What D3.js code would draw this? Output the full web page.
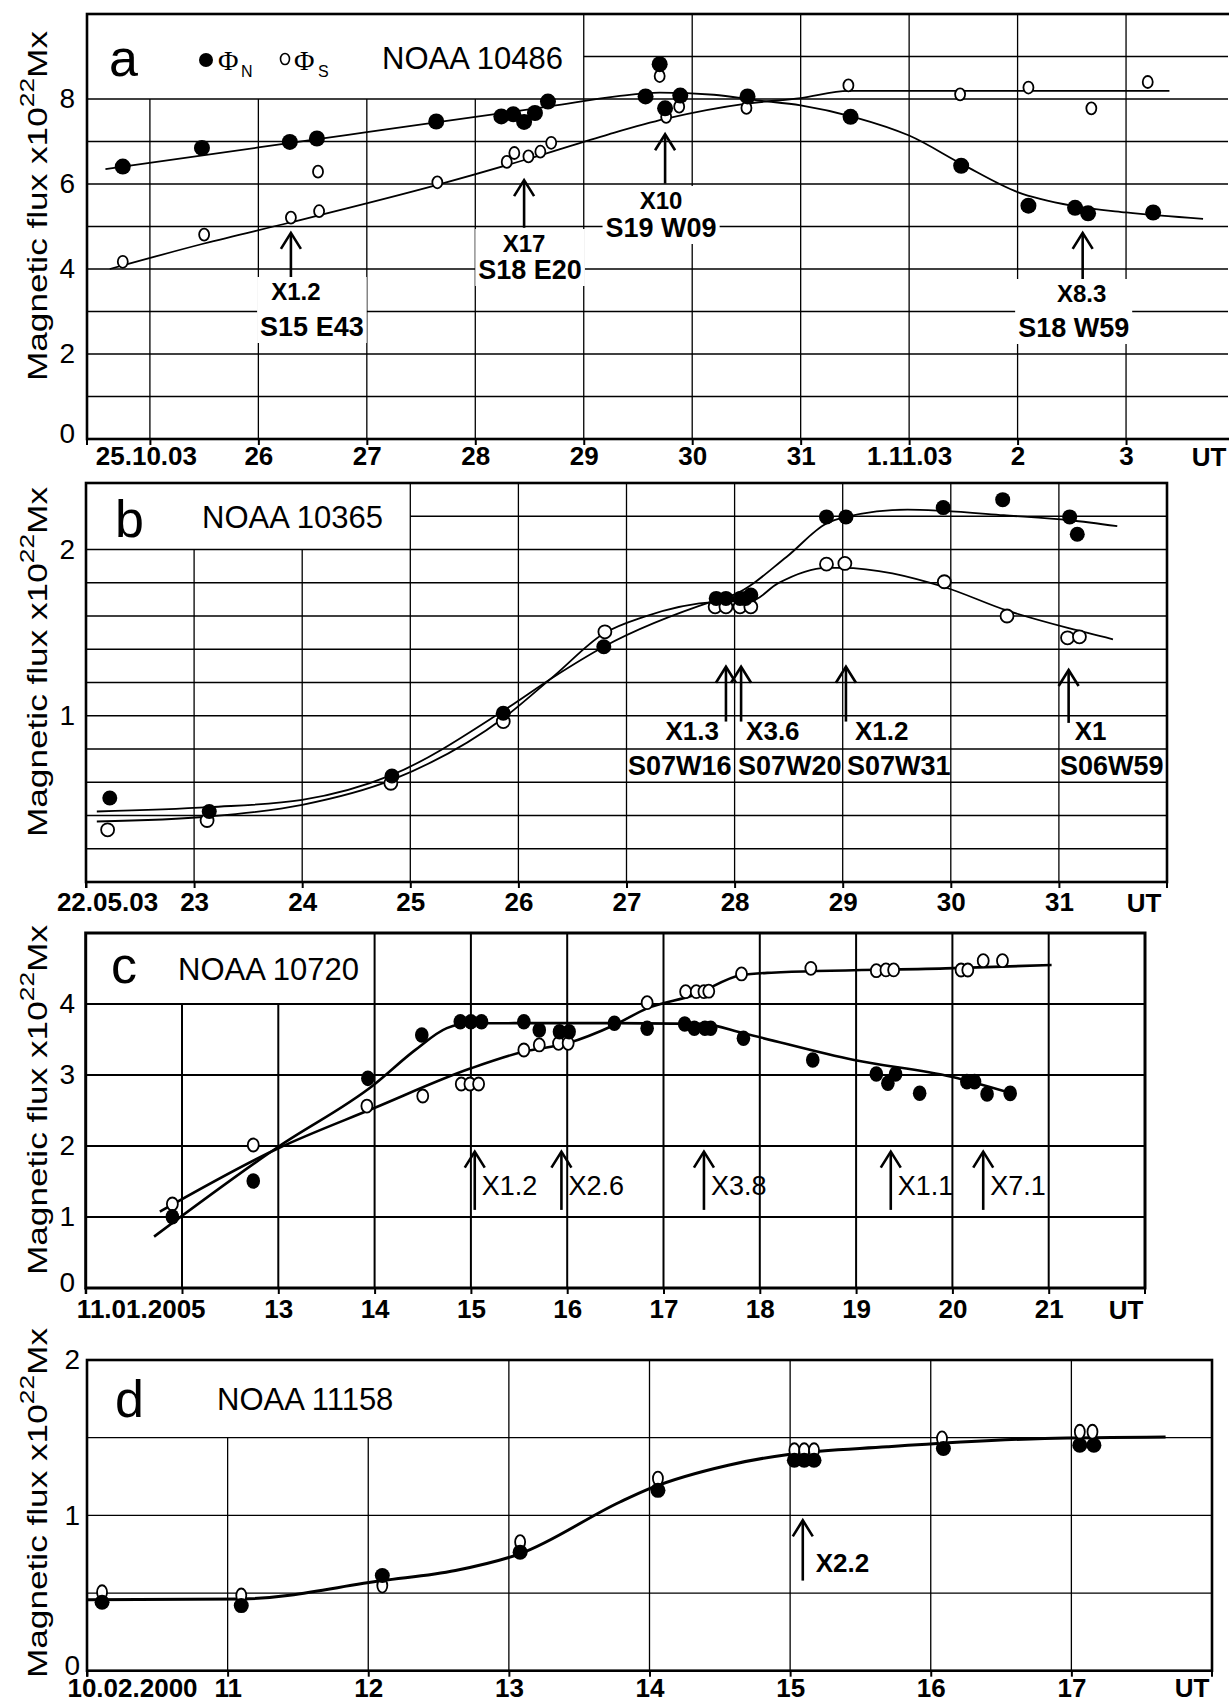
<!doctype html>
<html>
<head>
<meta charset="utf-8">
<script src="https://cdn.jsdelivr.net/npm/d3@7/dist/d3.min.js"></script>
<style>
  body { margin: 0; background: #fff; }
  svg { display: block; font-family: "Liberation Sans", Arial, Helvetica, sans-serif; }
  .grid { stroke: #000; }
  .frame { fill: none; stroke: #000; }
  .fit { fill: none; stroke: #000; }
  .open { fill: #fff; stroke: #000; stroke-width: 1.8; }
  .filled { fill: #000; }
  .arrow { stroke: #000; stroke-width: 2.6; fill: none; }
  .xaxis text { font-size: 26px; font-weight: bold; fill: #000; }
  .yaxis text { font-size: 28px; fill: #000; }
</style>
</head>
<body>
<svg id="fig" width="1229" height="1703"></svg>
<script>
// ---- panel a : NOAA 10486 (days of Oct/Nov 2003, 32 = 1.11) ----
var aNorth = [[24.75,6.41],[25.48,6.85],[26.29,6.99],[26.54,7.07],[27.64,7.47],[28.24,7.59],[28.35,7.64],[28.45,7.46],
  [28.55,7.67],[28.67,7.94],[29.57,8.06],[29.70,8.82],[29.75,7.78],[29.89,8.08],[30.51,8.06],[31.46,7.58],
  [32.48,6.43],[33.10,5.49],[33.53,5.44],[33.65,5.31],[34.25,5.33]];
var aSouth = [[24.75,4.17],[25.50,4.81],[26.30,5.21],[26.56,5.36],[26.55,6.29],[27.65,6.04],[28.29,6.52],[28.36,6.73],
  [28.49,6.65],[28.60,6.76],[28.70,6.97],[29.70,8.54],[29.76,7.58],[29.88,7.82],[30.50,7.79],[31.44,8.32],
  [32.47,8.11],[33.10,8.27],[33.68,7.78],[34.20,8.40]];
var aFitNorth = [[24.59,6.35],[26,6.86],[27,7.22],[28,7.58],[28.7,7.83],[29.3,8.06],[29.7,8.15],[30.2,8.1],[30.6,7.97],
  [31.0,7.85],[31.5,7.57],[32.0,7.14],[32.5,6.45],[33.0,5.81],[33.5,5.49],[34.0,5.33],[34.71,5.18]];
var aFitSouth = [[24.63,4.0],[25.5,4.6],[26.3,5.1],[27.65,5.98],[28.5,6.6],[29.23,7.17],[29.75,7.53],[30.5,7.89],
  [31.0,8.02],[31.44,8.19],[32,8.19],[33,8.19],[34.4,8.19]];
var aFlares = [{day:26.3, cls:"X1.2", loc:"S15 E43"}, {day:28.45, cls:"X17", loc:"S18 E20"},
  {day:29.75, cls:"X10", loc:"S19 W09"}, {day:33.6, cls:"X8.3", loc:"S18 W59"}];
var aTickDays = [25,26,27,28,29,30,31,32,33,34];
var aTickLabels = ["25.10.03","26","27","28","29","30","31","1.11.03","2","3"];
var aFluxTicks = [0,2,4,6,8];

// ---- panel b : NOAA 10365 (May 2003) ----
var bNorth = [[22.22,0.505],[23.14,0.424],[24.83,0.638],[25.86,1.015],[26.79,1.415],[27.83,1.706],[27.92,1.706],
  [28.05,1.706],[28.10,1.706],[28.15,1.726],[28.85,2.196],[29.03,2.196],[29.93,2.252],[30.48,2.30],[31.10,2.196],[31.17,2.092]];
var bSouth = [[22.20,0.314],[23.12,0.37],[24.82,0.594],[25.86,0.965],[26.80,1.505],[27.82,1.655],[27.92,1.655],
  [28.05,1.655],[28.15,1.655],[28.85,1.912],[29.02,1.916],[29.94,1.806],[30.52,1.60],[31.08,1.469],[31.19,1.475]];
var bFitNorth = [[22.1,0.424],[23.14,0.45],[24.0,0.494],[24.83,0.644],[25.86,1.03],[26.33,1.235],[26.79,1.415],
  [27.83,1.695],[28.0,1.73],[28.48,1.955],[28.85,2.156],[29.03,2.196],[29.6,2.24],[29.93,2.232],[30.49,2.206],[31.1,2.176],[31.54,2.14]];
var bFitSouth = [[22.1,0.364],[23.14,0.394],[24.0,0.464],[24.83,0.614],[25.86,0.985],[26.33,1.24],[26.79,1.495],
  [27.16,1.595],[27.83,1.685],[28.15,1.69],[28.4,1.796],[28.85,1.89],[28.99,1.89],[29.93,1.776],[30.51,1.635],[31.1,1.525],[31.5,1.46]];
var bFlares = [{day:27.92, cls:"X1.3", loc:"S07W16"}, {day:28.06, cls:"X3.6", loc:"S07W20"},
  {day:29.03, cls:"X1.2", loc:"S07W31"}, {day:31.09, cls:"X1", loc:"S06W59"}];
var bTickDays = [22,23,24,25,26,27,28,29,30,31];
var bTickLabels = ["22.05.03","23","24","25","26","27","28","29","30","31"];
var bFluxTicks = [1,2];

// ---- panel c : NOAA 10720 (Jan 2005) ----
var cNorth = [[11.90,1.004],[12.74,1.507],[13.93,2.953],[14.49,3.563],[14.89,3.751],[15.0,3.751],[15.11,3.751],
  [15.55,3.75],[15.71,3.634],[15.92,3.61],[16.02,3.61],[16.49,3.728],[16.83,3.658],[17.22,3.718],[17.32,3.658],
  [17.43,3.658],[17.49,3.658],[17.83,3.517],[18.55,3.211],[19.21,3.014],[19.33,2.883],[19.41,3.014],[19.66,2.742],
  [20.15,2.906],[20.23,2.906],[20.36,2.732],[20.60,2.741]];
var cSouth = [[11.90,1.183],[12.74,2.014],[13.92,2.563],[14.50,2.704],[14.90,2.873],[14.99,2.873],[15.08,2.873],
  [15.55,3.352],[15.71,3.423],[15.91,3.446],[16.01,3.446],[16.83,4.019],[17.23,4.174],[17.34,4.174],[17.42,4.174],
  [17.47,4.18],[17.81,4.423],[18.53,4.502],[19.21,4.469],[19.31,4.48],[19.39,4.48],[20.09,4.479],[20.16,4.479],
  [20.32,4.61],[20.52,4.61]];
var cFitNorth = [[11.71,0.723],[13.0,1.99],[13.99,2.86],[14.42,3.35],[14.75,3.66],[15.0,3.728],[15.45,3.73],
  [16.5,3.73],[17.4,3.72],[17.83,3.587],[18.98,3.211],[19.99,2.976],[20.64,2.732]];
var cFitSouth = [[11.77,1.075],[13.0,1.968],[13.99,2.531],[15.0,3.094],[15.55,3.33],[16.0,3.446],[16.49,3.704],
  [16.83,3.939],[17.32,4.127],[17.81,4.408],[18.12,4.441],[19.93,4.502],[21.03,4.549]];
var cFlares = [{day:15.04, cls:"X1.2"}, {day:15.94, cls:"X2.6"}, {day:17.42, cls:"X3.8"},
  {day:19.36, cls:"X1.1"}, {day:20.32, cls:"X7.1"}];
var cTickDays = [11,12,13,14,15,16,17,18,19,20,21];
var cTickLabels = ["11.01.2005","","13","14","15","16","17","18","19","20","21"];
var cFluxTicks = [0,1,2,3,4];

// ---- panel d : NOAA 11158 ----
var dNorth = [[10.107,0.441],[11.097,0.419],[12.10,0.613],[13.08,0.763],[14.06,1.161],[15.03,1.355],[15.10,1.355],
  [15.17,1.355],[16.09,1.43],[17.06,1.452],[17.16,1.452]];
var dSouth = [[10.107,0.505],[11.097,0.484],[12.10,0.548],[13.08,0.828],[14.06,1.237],[15.03,1.419],[15.10,1.419],
  [15.17,1.419],[16.08,1.495],[17.06,1.538],[17.15,1.538]];
var dFit = [[10.0,0.456],[11.1,0.462],[12.1,0.58],[12.62,0.645],[13.08,0.753],[13.79,1.086],[14.0,1.172],
  [14.56,1.323],[15.0,1.394],[15.69,1.441],[16.81,1.495],[17.67,1.505]];
var dFlares = [{day:15.09, cls:"X2.2"}];
var dTickDays = [10,11,12,13,14,15,16,17];
var dTickLabels = ["10.02.2000","11","12","13","14","15","16","17"];
var dFluxTicks = [0,1,2];

// layout of the four panels (pixels)
var panels = [
  {letter:"a", noaa:"NOAA 10486", left:87, right:1228, top:14, bottom:439, days:[24.42,34.94], flux:[0,10],
   step:1, boxDay:29, boxFlux:8, gridW:1.3, frameW:2.6, fitW:1.8, labelGap:8, firstDx:-4, yRight:75,
   titleCy:206, letterPos:[109,76], noaaPos:[382,69], utX:1209, frameRight:1240,
   north:aNorth, south:aSouth, fits:[aFitNorth,aFitSouth], flares:aFlares,
   tickDays:aTickDays, tickLabels:aTickLabels, fluxTicks:aFluxTicks,
   filledR:[8,8], openR:[5,6]},
  {letter:"b", noaa:"NOAA 10365", left:86, right:1167, top:483, bottom:882, days:[22,32], flux:[0,2.4],
   step:0.2, boxDay:25, boxFlux:2.0, gridW:1.3, frameW:2.6, fitW:1.8, labelGap:11, firstDx:21, yRight:75,
   titleCy:662, letterPos:[115,537], noaaPos:[202,528], utX:1144, frameRight:1167,
   north:bNorth, south:bSouth, fits:[bFitNorth,bFitSouth], flares:bFlares,
   tickDays:bTickDays, tickLabels:bTickLabels, fluxTicks:bFluxTicks,
   filledR:[7.5,7.5], openR:[6.5,6.5]},
  {letter:"c", noaa:"NOAA 10720", left:85.7, right:1145, top:933, bottom:1288, days:[11,22], flux:[0,5],
   step:1, boxDay:14, boxFlux:4, gridW:2, frameW:3, fitW:2.6, labelGap:12, firstDx:55, yRight:75,
   titleCy:1100, letterPos:[111,983], noaaPos:[178,980], utX:1126, frameRight:1145,
   north:cNorth, south:cSouth, fits:[cFitNorth,cFitSouth], flares:cFlares,
   tickDays:cTickDays, tickLabels:cTickLabels, fluxTicks:cFluxTicks,
   filledR:[6.8,7.8], openR:[5.5,6.5]},
  {letter:"d", noaa:"NOAA 11158", left:87, right:1212, top:1360, bottom:1670.7, days:[10,18], flux:[0,2],
   step:0.5, boxDay:13, boxFlux:1.5, gridW:1.3, frameW:2.6, fitW:3, labelGap:8, firstDx:45, yRight:80,
   titleCy:1503, letterPos:[115,1417], noaaPos:[217,1410], utX:1192, frameRight:1212,
   north:dNorth, south:dSouth, fits:[dFit], flares:dFlares,
   tickDays:dTickDays, tickLabels:dTickLabels, fluxTicks:dFluxTicks,
   filledR:[7.5,7.5], openR:[5,7]}
];

// flare arrows: [head flux, tail flux] and label placement, per panel
var arrowLayout = {
  a: [{head:4.85, tail:3.73, cls:[5,300], loc:[21,336]},
      {head:6.09, tail:4.97, cls:[0,252], loc:[6,279]},
      {head:7.17, tail:6.01, cls:[-4,209], loc:[-4,237]},
      {head:4.85, tail:3.73, cls:[-1,302], loc:[-9,337]}],
  b: [{head:1.295, tail:0.965, side:"left", dx:-7, clsY:740, locX:628, locY:775},
      {head:1.295, tail:0.965, side:"right", dx:5, clsY:740, locX:738, locY:775},
      {head:1.295, tail:0.965, side:"right", dx:9, clsY:740, locX:847, locY:775},
      {head:1.275, tail:0.957, side:"right", dx:6, clsY:740, locX:1060, locY:775}],
  c: {head:1.92, tail:1.10, dx:7, clsY:1195},
  d: {head:0.968, tail:0.58, dx:13, clsY:1572}
};

var svg = d3.select("#fig");
svg.append("rect").attr("width", 1229).attr("height", 1703).attr("fill", "#fff");

function arrow(g, px, hy, ty) {
  g.append("line").attr("class", "arrow")
   .attr("x1", px).attr("x2", px).attr("y1", ty).attr("y2", hy + 1);
  g.append("path").attr("class", "arrow")
   .attr("d", "M" + (px - 10) + "," + (hy + 16) + " L" + px + "," + hy + " L" + (px + 10) + "," + (hy + 16));
}

function drawPanel(p) {
  var x = d3.scaleLinear().domain(p.days).range([p.left, p.right]);
  var y = d3.scaleLinear().domain(p.flux).range([p.bottom, p.top]);
  var g = svg.append("g");

  // vertical grid lines (the title box at top-left is left blank)
  var vdays = p.tickDays.filter(function(d) { return x(d) > p.left + 2; });
  g.selectAll(".vgrid").data(vdays).enter().append("line")
   .attr("class", "grid").attr("stroke-width", p.gridW)
   .attr("x1", function(d) { return x(d); }).attr("x2", function(d) { return x(d); })
   .attr("y1", p.bottom)
   .attr("y2", function(d) { return d < p.boxDay ? y(p.boxFlux) : p.top; });

  // horizontal grid lines
  var hvals = d3.range(1, Math.round(p.flux[1] / p.step)).map(function(i) { return i * p.step; });
  g.selectAll(".hgrid").data(hvals).enter().append("line")
   .attr("class", "grid").attr("stroke-width", p.gridW)
   .attr("y1", function(d) { return y(d); }).attr("y2", function(d) { return y(d); })
   .attr("x1", function(d) { return d > p.boxFlux + 1e-6 ? x(p.boxDay) : p.left; })
   .attr("x2", p.right);

  // frame
  g.append("rect").attr("class", "frame").attr("stroke-width", p.frameW)
   .attr("x", p.left).attr("y", p.top)
   .attr("width", p.frameRight - p.left).attr("height", p.bottom - p.top);

  // x axis (ticks + labels)
  var xa = g.append("g").attr("class", "xaxis")
   .attr("transform", "translate(0," + p.bottom + ")")
   .call(d3.axisBottom(x).tickValues(p.tickDays)
     .tickFormat(function(d, i) { return p.tickLabels[i]; })
     .tickSize(6).tickPadding(p.labelGap - 6));
  xa.select(".domain").remove();
  xa.selectAll(".tick line").attr("stroke", "#000").attr("stroke-width", 2);
  xa.selectAll(".tick text").filter(function(d, i) { return i === 0; }).attr("dx", p.firstDx);
  g.append("line").attr("stroke", "#000").attr("stroke-width", 2)
   .attr("x1", p.left).attr("x2", p.left).attr("y1", p.bottom).attr("y2", p.bottom + 6);
  if (p.frameRight < 1229) {
    g.append("line").attr("stroke", "#000").attr("stroke-width", 2)
     .attr("x1", p.frameRight).attr("x2", p.frameRight).attr("y1", p.bottom).attr("y2", p.bottom + 6);
  }
  g.append("text").attr("x", p.utX).attr("y", p.bottom + p.labelGap + 18.5)
   .attr("text-anchor", "middle").attr("font-size", 26).attr("font-weight", "bold").text("UT");

  // y axis labels (the "0" sits a little above the axis line)
  var ya = g.append("g").attr("class", "yaxis")
   .attr("transform", "translate(" + p.left + ",0)")
   .call(d3.axisLeft(y).tickValues(p.fluxTicks).tickSize(0).tickPadding(p.left - p.yRight)
     .tickFormat(function(d) { return String(d); }));
  ya.select(".domain").remove();
  ya.selectAll(".tick text").filter(function(d) { return d === 0; }).attr("dy", "0.12em");

  // y title
  var t = g.append("text")
   .attr("transform", "translate(47," + p.titleCy + ") rotate(-90)")
   .attr("text-anchor", "middle").attr("font-size", 28)
   .attr("textLength", 350).attr("lengthAdjust", "spacingAndGlyphs");
  t.append("tspan").text("Magnetic flux x10");
  t.append("tspan").attr("font-size", 21).attr("dy", -13).text("22");
  t.append("tspan").attr("dy", 13).text("Mx");

  // panel letter + region number
  g.append("text").attr("x", p.letterPos[0]).attr("y", p.letterPos[1])
   .attr("font-size", 52).text(p.letter);
  g.append("text").attr("x", p.noaaPos[0]).attr("y", p.noaaPos[1])
   .attr("font-size", 31).text(p.noaa);

  // fitted curves
  var line = d3.line()
   .x(function(d) { return x(d[0]); })
   .y(function(d) { return y(d[1]); })
   .curve(d3.curveMonotoneX);
  g.selectAll(".fit").data(p.fits).enter().append("path")
   .attr("class", "fit").attr("stroke-width", p.fitW).attr("d", line);

  // measured points: open = S polarity, filled = N polarity
  g.selectAll(".open").data(p.south).enter().append("ellipse")
   .attr("class", "open")
   .attr("cx", function(d) { return x(d[0]); }).attr("cy", function(d) { return y(d[1]); })
   .attr("rx", p.openR[0]).attr("ry", p.openR[1]);
  g.selectAll(".filled").data(p.north).enter().append("ellipse")
   .attr("class", "filled")
   .attr("cx", function(d) { return x(d[0]); }).attr("cy", function(d) { return y(d[1]); })
   .attr("rx", p.filledR[0]).attr("ry", p.filledR[1]);

  return {x: x, y: y, g: g};
}

function boxedLabel(g, lines) {
  var box = g.append("g");
  var bg = box.append("rect").attr("fill", "#fff");
  lines.forEach(function(l) {
    box.append("text").attr("x", l.x).attr("y", l.y).attr("text-anchor", "middle")
     .attr("font-size", l.size).attr("font-weight", "bold").text(l.text);
  });
  var bb = box.node().getBBox();
  bg.attr("x", bb.x - 3).attr("y", bb.y - 1).attr("width", bb.width + 6).attr("height", bb.height + 2);
}

// panel a
var pa = drawPanel(panels[0]);
aFlares.forEach(function(f, i) {
  var L = arrowLayout.a[i], px = pa.x(f.day);
  arrow(pa.g, px, pa.y(L.head), pa.y(L.tail));
  boxedLabel(pa.g, [{x: px + L.cls[0], y: L.cls[1], size: 24, text: f.cls},
                    {x: px + L.loc[0], y: L.loc[1], size: 27, text: f.loc}]);
});
// legend
pa.g.append("circle").attr("cx", 206).attr("cy", 60).attr("r", 7).attr("fill", "#000");
pa.g.append("text").attr("x", 218).attr("y", 70).attr("font-family", "Liberation Serif, serif")
 .attr("font-size", 28).text("\u03A6");
pa.g.append("text").attr("x", 241).attr("y", 77).attr("font-size", 16).text("N");
pa.g.append("ellipse").attr("cx", 285).attr("cy", 59).attr("rx", 4.5).attr("ry", 5.5)
 .attr("fill", "#fff").attr("stroke", "#000").attr("stroke-width", 1.6);
pa.g.append("text").attr("x", 294).attr("y", 70).attr("font-family", "Liberation Serif, serif")
 .attr("font-size", 28).text("\u03A6");
pa.g.append("text").attr("x", 318).attr("y", 77).attr("font-size", 16).text("S");

// panel b
var pb = drawPanel(panels[1]);
bFlares.forEach(function(f, i) {
  var L = arrowLayout.b[i], px = pb.x(f.day);
  arrow(pb.g, px, pb.y(L.head), pb.y(L.tail));
  pb.g.append("text").attr("x", px + L.dx).attr("y", L.clsY)
   .attr("text-anchor", L.side === "left" ? "end" : "start")
   .attr("font-size", 26).attr("font-weight", "bold").text(f.cls);
  pb.g.append("text").attr("x", L.locX).attr("y", L.locY)
   .attr("font-size", 27).attr("font-weight", "bold").text(f.loc);
});

// panel c
var pc = drawPanel(panels[2]);
cFlares.forEach(function(f) {
  var L = arrowLayout.c, px = pc.x(f.day);
  arrow(pc.g, px, pc.y(L.head), pc.y(L.tail));
  pc.g.append("text").attr("x", px + L.dx).attr("y", L.clsY)
   .attr("font-size", 27).text(f.cls);
});

// panel d
var pd = drawPanel(panels[3]);
dFlares.forEach(function(f) {
  var L = arrowLayout.d, px = pd.x(f.day);
  arrow(pd.g, px, pd.y(L.head), pd.y(L.tail));
  pd.g.append("text").attr("x", px + L.dx).attr("y", L.clsY)
   .attr("font-size", 26).attr("font-weight", "bold").text(f.cls);
});
</script>
</body>
</html>
